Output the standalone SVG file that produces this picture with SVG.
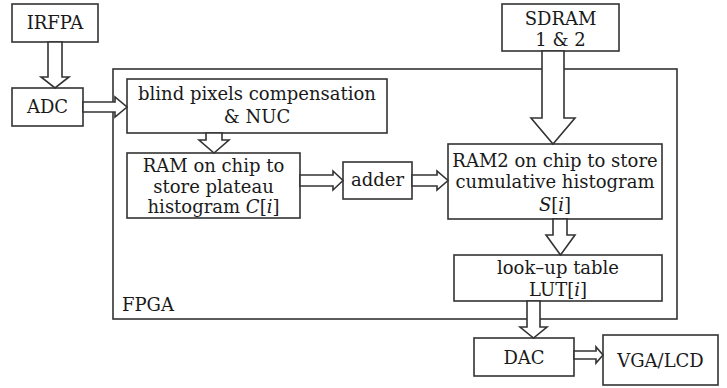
<svg xmlns="http://www.w3.org/2000/svg" width="727" height="388" viewBox="0 0 727 388">
  <style>
    .box { fill: #fff; stroke: #333; stroke-width: 1.6; }
    .frame { fill: none; stroke: #333; stroke-width: 1.6; }
    .arrow { fill: #fff; stroke: #333; stroke-width: 1.6; stroke-linejoin: miter; }
    text { font-family: "DejaVu Serif", "Liberation Serif", serif; font-size: 18px; fill: #1a1a1a; text-anchor: middle; }
    .it { font-style: italic; }
  </style>
  <rect width="727" height="388" fill="#fff"/>

  <!-- FPGA frame -->
  <g id="fpga">
    <rect class="frame" x="113" y="69" width="564" height="250"/>
    <text x="122" y="311" style="text-anchor:start">FPGA</text>
  </g>

  <g id="irfpa">
    <rect class="box" x="12" y="4" width="86" height="38"/>
    <text x="55" y="29">IRFPA</text>
  </g>
  <g id="adc">
    <rect class="box" x="12" y="88" width="71" height="38"/>
    <text x="47.5" y="113">ADC</text>
  </g>
  <g id="nuc">
    <rect class="box" x="127" y="79" width="260" height="54"/>
    <text x="257" y="100">blind pixels compensation</text>
    <text x="257" y="123">&amp; NUC</text>
  </g>
  <g id="ram1">
    <rect class="box" x="127" y="153" width="173" height="65"/>
    <text x="213.5" y="172">RAM on chip to</text>
    <text x="213.5" y="193">store plateau</text>
    <text x="213.5" y="213">histogram <tspan class="it">C</tspan>[<tspan class="it">i</tspan>]</text>
  </g>
  <g id="adder">
    <rect class="box" x="343" y="162" width="69" height="37"/>
    <text x="377.5" y="186">adder</text>
  </g>
  <g id="sdram">
    <rect class="box" x="502" y="4" width="117" height="47"/>
    <text x="560.5" y="25">SDRAM</text>
    <text x="560.5" y="46">1 &amp; 2</text>
  </g>
  <g id="ram2">
    <rect class="box" x="448" y="144" width="214" height="75"/>
    <text x="555" y="167">RAM2 on chip to store</text>
    <text x="555" y="188">cumulative histogram</text>
    <text x="555" y="211"><tspan class="it">S</tspan>[<tspan class="it">i</tspan>]</text>
  </g>
  <g id="lut">
    <rect class="box" x="454" y="255" width="208" height="46"/>
    <text x="558" y="274">look–up table</text>
    <text x="558" y="296">LUT[<tspan class="it">i</tspan>]</text>
  </g>
  <g id="dac">
    <rect class="box" x="474" y="338" width="100" height="38"/>
    <text x="524" y="364">DAC</text>
  </g>
  <g id="vga">
    <rect class="box" x="603" y="335" width="115" height="50"/>
    <text x="660.5" y="367">VGA/LCD</text>
  </g>

  <!-- hollow block arrows -->
  <g id="connectors">
    <polygon class="arrow" points="48,42 62,42 62,77 69,77 55,88 41,77 48,77"/>
    <polygon class="arrow" points="83,102 115,102 115,97 127,107 115,117 115,112 83,112"/>
    <polygon class="arrow" points="206,133 222,133 222,140 229,140 214,153 199,140 206,140"/>
    <polygon class="arrow" points="300,175 333,175 333,171 343,180.5 333,190 333,186 300,186"/>
    <polygon class="arrow" points="412,175 437,175 437,171 448,180.5 437,190 437,186 412,186"/>
    <polygon class="arrow" points="542,51 564,51 564,118 575,118 553,144 531,118 542,118"/>
    <polygon class="arrow" points="553,219 567,219 567,235 575,235 560.5,255 546,235 553,235"/>
    <polygon class="arrow" points="527,301 540,301 540,327 547,327 533.5,338 520,327 527,327"/>
    <polygon class="arrow" points="574,351 596,351 596,347 603,355 596,363 596,359 574,359"/>
  </g>
</svg>
